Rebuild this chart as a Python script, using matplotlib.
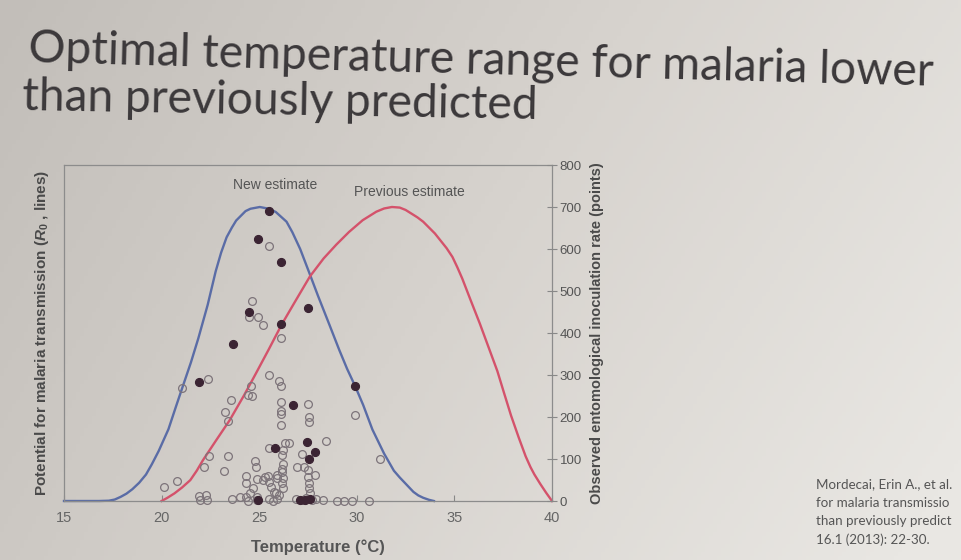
import numpy as np
import matplotlib
matplotlib.use("Agg")
import matplotlib.pyplot as plt
from matplotlib.colors import LinearSegmentedColormap

# ---------------- data ----------------
# relative R0 curves (peak = 1)
temp_new = [15, 16, 16.8, 17.3, 17.6, 17.9, 18.2, 18.5, 18.85, 19.2, 19.5, 19.85, 20.35,
            20.75, 21.07, 21.5, 21.88, 22.36, 22.77, 23.05, 23.33, 23.6, 23.82, 24.3,
            24.55, 25.03, 25.5, 25.85, 26.1, 26.4, 26.7, 27.1, 27.55, 28.0, 28.6, 29.1,
            29.5, 29.9, 30.33, 30.8, 31.4, 31.9, 32.2, 32.5, 32.9, 33.15, 33.4, 33.7,
            33.95]
r0_new = [0, 0, 0, 0.001, 0.005, 0.014, 0.025, 0.04, 0.062, 0.09, 0.125, 0.17, 0.244,
          0.324, 0.387, 0.471, 0.553, 0.667, 0.781, 0.845, 0.897, 0.93, 0.954, 0.986,
          0.994, 1.0, 0.994, 0.983, 0.968, 0.95, 0.914, 0.857, 0.779, 0.70, 0.599, 0.514,
          0.45, 0.393, 0.326, 0.243, 0.161, 0.103, 0.08, 0.059, 0.031, 0.019, 0.011,
          0.004, 0]

temp_prev = [20.0, 20.3, 20.66, 21.05, 21.47, 21.8, 22.12, 22.8, 23.48, 24.22, 24.8,
             25.5, 26.15, 26.8, 27.6, 28.3, 28.95, 29.6, 30.3, 31.0, 31.4, 31.8, 32.2,
             32.5, 33.1, 33.4, 33.7, 34.0, 34.3, 34.6, 34.9, 35.15, 35.4, 35.85, 36.3,
             36.75, 37.2, 37.55, 37.9, 38.3, 38.65, 38.9, 39.1, 39.4, 39.7, 40.0]
r0_prev = [0, 0.011, 0.026, 0.046, 0.071, 0.103, 0.139, 0.207, 0.274, 0.359, 0.43,
           0.517, 0.60, 0.674, 0.764, 0.825, 0.872, 0.915, 0.955, 0.984, 0.995, 1.0,
           0.998, 0.99, 0.965, 0.95, 0.93, 0.91, 0.885, 0.86, 0.83, 0.795, 0.757, 0.68,
           0.604, 0.523, 0.442, 0.366, 0.291, 0.215, 0.152, 0.115, 0.09, 0.058, 0.028, 0]

# observed EIR points
filled_temp = [25.5, 24.95, 26.1, 24.5, 26.14, 27.5, 23.66, 21.9, 29.9, 26.75, 25.8,
               27.45, 27.87, 27.55, 24.95, 27.1, 27.35, 27.6]
filled_eir = [690, 625, 570, 451, 422, 459, 374, 284, 275, 228, 127,
              140, 116, 100, 3, 3, 2, 4]

open_temp = [25.5, 24.65, 24.5, 24.95, 25.17, 26.14,
             22.36, 21.07, 25.5, 26.0, 26.14,
             24.6, 24.45, 24.65,
             23.55, 23.25, 23.4, 26.14, 26.1, 26.1, 26.14,
             27.5, 27.55, 27.55, 29.9, 28.4,
             25.5, 26.3, 26.55, 26.2, 26.15, 27.2, 31.2,
             23.4, 22.44, 22.15, 23.2, 24.8, 24.85,
             25.3, 25.2, 25.5, 25.6, 25.75, 25.45,
             25.9, 25.9, 24.3, 24.3, 24.9,
             26.15, 26.2, 26.15, 26.2, 26.15, 26.2, 26.0,
             24.7, 24.55, 24.0, 25.85,
             26.94, 27.3, 27.5, 27.5, 27.85, 27.55, 27.55, 27.6,
             20.78, 20.13,
             21.9, 21.95, 22.3, 22.35, 23.6, 24.3, 24.45, 24.9, 24.9, 25.5, 25.7,
             25.9, 26.9, 27.2, 27.4, 27.7, 27.9, 28.25, 29.0, 29.35, 29.75, 30.6]
open_eir = [608, 477, 437, 439, 418, 387,
            291, 269, 299, 285, 275,
            273, 252, 250,
            240, 212, 191, 235, 215, 207, 182,
            231, 199, 187, 204, 144,
            127, 139, 139, 121, 109, 112, 101,
            107, 108, 82, 72, 95, 81,
            58, 50, 46, 34, 22, 60,
            63, 55, 60, 42, 52,
            76, 55, 43, 87, 70, 30, 15,
            30, 18, 9, 18,
            81, 81, 73, 58, 63, 43, 30, 18,
            48, 34,
            12, 2, 14, 3, 5, 10, 1, 10, 2, 5, 1,
            4, 4, 2, 6, 3, 5, 2, 0, 0, 0, 0]

temp_ticks = [15, 20, 25, 30, 35, 40]
eir_ticks = [0, 100, 200, 300, 400, 500, 600, 700, 800]

title_lines = ["Optimal temperature range for malaria lower", "than previously predicted"]
# the photo cuts these lines at its right edge; only the visible part is kept
citation_lines = ["Mordecai, Erin A., et al.",
                  "for malaria transmissio",
                  "than previously predict",
                  "16.1 (2013): 22-30."]

# ---------------- style ----------------
plt.rcParams["font.family"] = ["Liberation Sans", "DejaVu Sans"]
plt.rcParams["mathtext.fontset"] = "custom"
plt.rcParams["mathtext.it"] = "Liberation Sans:italic:bold"
plt.rcParams["mathtext.rm"] = "Liberation Sans:bold"
plt.rcParams["mathtext.bf"] = "Liberation Sans:bold"

W, H = 962, 560
fig = plt.figure(figsize=(W / 100, H / 100), dpi=100)

# slide background (photo-like gradient)
bg = fig.add_axes([0, 0, 1, 1], zorder=-10)
gx = np.linspace(0, 1, 240)
gy = np.linspace(0, 1, 140)
X, Y = np.meshgrid(gx, gy)
val = np.clip(0.75 * X + 0.25 * Y + 0.05 * X * Y, 0, 1)
cmap = LinearSegmentedColormap.from_list("bg", ["#c2beb9", "#d7d3ce", "#e9e7e3"])
bg.imshow(val, cmap=cmap, aspect="auto", extent=[0, 1, 0, 1], origin="upper")
bg.set_axis_off()

# main axes
L, R, T, B = 64, 552, 165, 501
ax = fig.add_axes([L / W, 1 - B / H, (R - L) / W, (B - T) / H])
ax.set_facecolor("none")
ax.set_xlim(15, 40)
ax.set_ylim(0, 800 / 700)
ax.plot(temp_new, r0_new, color="#5a6ca6", lw=1.7, zorder=2, clip_on=False)
ax.plot(temp_prev, r0_prev, color="#d4526b", lw=1.7, zorder=2, clip_on=False)
ax.set_yticks([])
ax.set_xticks(temp_ticks)
ax.tick_params(axis="x", direction="in", length=4, width=0.8, color="#888888",
               labelsize=10.5, labelcolor="#666666", pad=7)
ax.set_xlabel("Temperature (\u00b0C)", fontsize=12, fontweight="bold", color="#555555")
ax.xaxis.set_label_coords(0.52, -0.115)
ax.set_ylabel(r"Potential for malaria transmission ($R_0$ , lines)", fontsize=11,
              fontweight="bold", color="#4a4a4a", labelpad=9)
for s in ax.spines.values():
    s.set_color("#8c8c8c")
    s.set_linewidth(0.9)

ax2 = ax.twinx()
ax2.set_ylim(0, 800)
ax2.set_yticks(eir_ticks)
ax2.tick_params(axis="y", direction="inout", length=7, width=0.8, color="#888888",
                labelsize=9.5, labelcolor="#555555", pad=2)
for s in ax2.spines.values():
    s.set_visible(False)
ax2.plot(open_temp, open_eir, linestyle="none", marker="o", markersize=5.6,
         markerfacecolor="none", markeredgecolor="#7d747a", markeredgewidth=0.9,
         zorder=3, clip_on=False)
ax2.plot(filled_temp, filled_eir, linestyle="none", marker="o", markersize=5.8,
         markerfacecolor="#3b2433", markeredgecolor="#3b2433", markeredgewidth=0.8,
         zorder=4, clip_on=False)
ax2.set_ylabel("Observed entomological inoculation rate (points)", fontsize=10.5,
               fontweight="bold", color="#4a4a4a", labelpad=6)

ax2.text(25.83, 752, "New estimate", ha="center", va="center", fontsize=10,
         color="#555555")
ax2.text(32.67, 735, "Previous estimate", ha="center", va="center", fontsize=10,
         color="#555555")

# title (slide heading, fitted to the photographed width)
tfont = dict(family=["Lato", "DejaVu Sans"], weight="normal", color="#3b383a")
t1 = fig.text(28 / W, 1 - 62 / H, title_lines[0], ha="left", va="baseline",
              rotation=-1.5, rotation_mode="anchor", fontsize=36, **tfont)
fig.canvas.draw()
r = fig.canvas.get_renderer()
wpx = t1.get_window_extent(r).width
size = 36 * 908 / wpx
t1.set_fontsize(size)
t2 = fig.text(22 / W, 1 - 110 / H, title_lines[1], ha="left", va="baseline",
              rotation=-1.0, rotation_mode="anchor", fontsize=size, **tfont)

# citation
for i, line in enumerate(citation_lines):
    fig.text(816 / W, 1 - (484 + i * 18.6) / H, line, ha="left", va="center",
             fontsize=9.6, color="#555555", family=["Lato", "DejaVu Sans"])

fig.savefig("out.png", dpi=100)
